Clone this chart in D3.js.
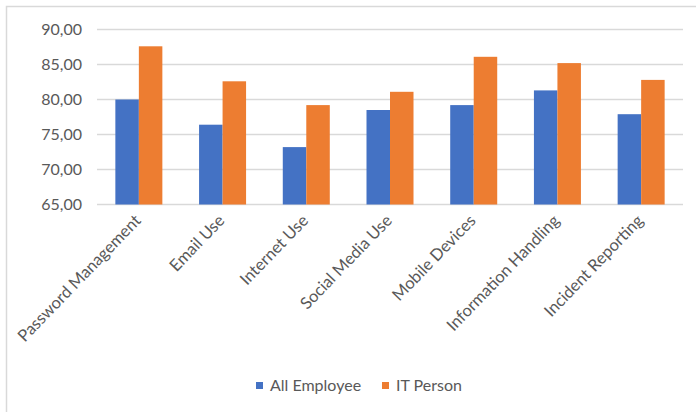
<!DOCTYPE html>
<html><head><meta charset="utf-8">
<script src="https://cdn.jsdelivr.net/npm/d3@7"></script>
<style>html,body{margin:0;padding:0;background:#fff;}svg{display:block;}</style>
</head><body>
<svg id="chart" width="696" height="412"></svg>
<script>
const categories = ["Password Management","Email Use","Internet Use","Social Media Use","Mobile Devices","Information Handling","Incident Reporting"];
const allEmployee = [80.0, 76.4, 73.2, 78.5, 79.2, 81.3, 77.9];
const itPerson = [87.6, 82.6, 79.2, 81.1, 86.1, 85.2, 82.8];
const seriesNames = ["All Employee", "IT Person"];
const seriesColors = ["#4472C4", "#ED7D31"];
const yTicks = [65, 70, 75, 80, 85, 90];

(function () {
const svg = d3.select("#chart");
const font = "Lato, 'Open Sans', sans-serif";
const pLeft = 97, pRight = 683, pTop = 29.5, pBottom = 204.5;

// chart border
svg.append("rect").attr("x", 6.5).attr("y", 6.5).attr("width", 720).attr("height", 420)
  .attr("fill", "none").attr("stroke", "#d9d9d9").attr("stroke-width", 1.5);

const x = d3.scaleBand().domain(categories).range([pLeft, pRight]).padding(0);
const y = d3.scaleLinear().domain([65, 90]).range([pBottom, pTop]);
const barW = 23.5;
const xs = d3.scaleBand().domain(seriesNames).range([-barW, barW]);

// gridlines
svg.append("g").selectAll("line").data(yTicks).join("line")
  .attr("x1", pLeft).attr("x2", pRight)
  .attr("y1", d => y(d)).attr("y2", d => y(d))
  .attr("stroke", "#d9d9d9").attr("stroke-width", 1.5);

// y labels
const yAxis = d3.axisLeft(y).tickValues(yTicks).tickSize(0).tickPadding(0)
  .tickFormat(d => d3.format(".2f")(d).replace(".", ","));
const yg = svg.append("g").attr("transform", `translate(82,0)`).call(yAxis);
yg.select(".domain").remove();
yg.selectAll("text").attr("font-family", font).attr("font-size", 16).attr("fill", "#595959");

// bars
const data = [allEmployee, itPerson];
data.forEach((vals, si) => {
  svg.append("g").selectAll("rect").data(vals).join("rect")
    .attr("x", (d, i) => x(categories[i]) + x.bandwidth() / 2 + xs(seriesNames[si]))
    .attr("width", xs.bandwidth())
    .attr("y", d => y(d))
    .attr("height", d => y(65) - y(d))
    .attr("fill", seriesColors[si]);
});

// x labels
const xAxis = d3.axisBottom(x).tickSize(0).tickPadding(0);
const xg = svg.append("g").attr("transform", `translate(0,${pBottom})`).call(xAxis);
xg.select(".domain").remove();
xg.selectAll("text")
  .attr("font-family", font).attr("font-size", 16.5).attr("fill", "#595959")
  .attr("text-anchor", "end")
  .attr("dy", null).attr("y", 0)
  .attr("transform", "translate(3,17) rotate(-46)");

// legend
const legend = svg.append("g");
const legX = [256, 382];
seriesNames.forEach((n, i) => {
  legend.append("rect").attr("x", legX[i]).attr("y", 382).attr("width", 7).attr("height", 7).attr("fill", seriesColors[i]);
  legend.append("text").attr("x", legX[i] + 14).attr("y", 391).text(n)
    .attr("font-family", font).attr("font-size", 16).attr("fill", "#595959");
});
})();
</script>
</body></html>
